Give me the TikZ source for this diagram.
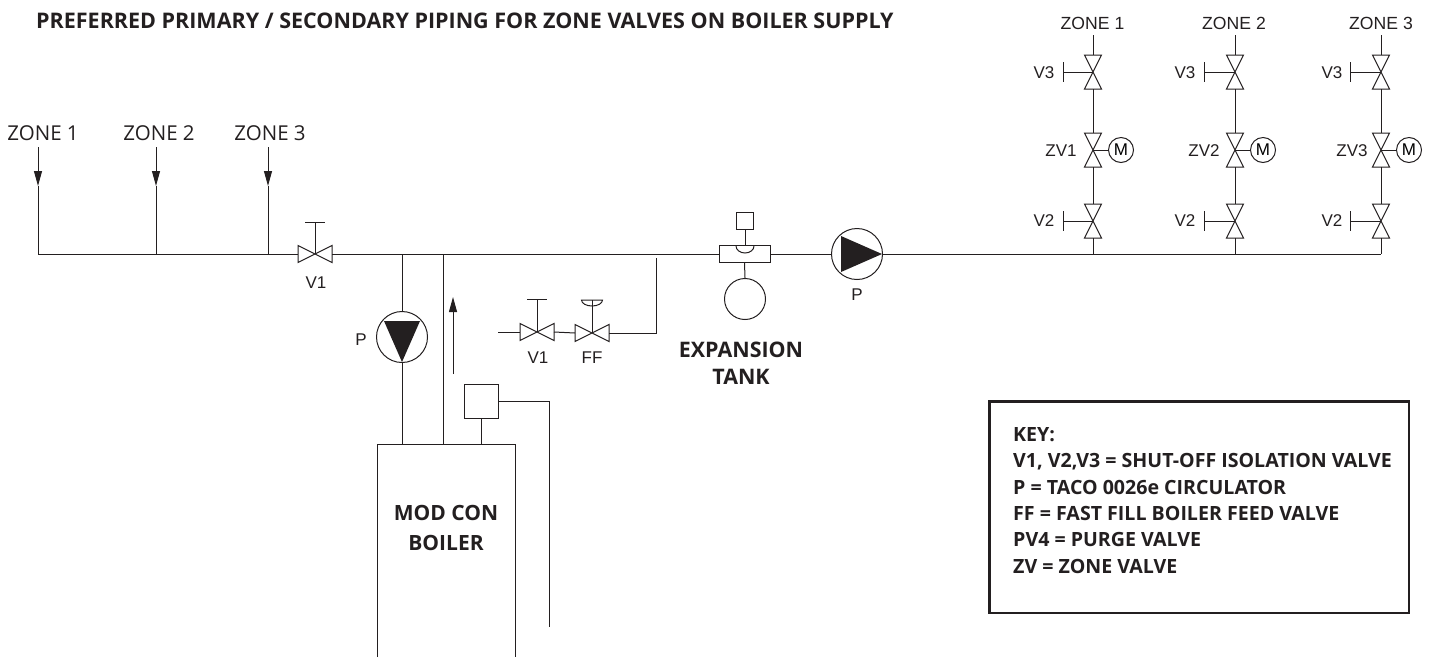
\documentclass[tikz,border=0pt]{standalone}
\usepackage{fontspec}
\setmainfont{Liberation Sans}
\newfontfamily\keyfont{Open Sans}
\usetikzlibrary{arrows.meta}
\definecolor{inkgrey}{HTML}{231F20}
\tikzstyle{every picture}+=[font=\fontsize{17}{19}\selectfont]
\tikzstyle{pipe}=[draw=inkgrey, line width=1pt]
\tikzstyle{heading}=[text=inkgrey, font=\keyfont\bfseries\fontsize{21}{27}\selectfont]
\tikzstyle{tag}=[text=inkgrey, inner sep=0pt]
\tikzstyle{round}=[circle, pipe, inner sep=0pt, fill=white]
\tikzstyle{flowhead}=[-{Triangle[length=15pt,width=8pt]}]
\tikzset{
  hvalve/.pic={
    \draw[pipe] (-17,-8.5) -- (17,8.5) -- (17,-8.5) -- (-17,8.5) -- cycle;
    \coordinate (-w) at (-17,0);
    \coordinate (-e) at (17,0);
    \coordinate (-c) at (0,0);
  },
  vvalve/.pic={
    \draw[pipe] (-8.5,-17) -- (8.5,17) -- (-8.5,17) -- (8.5,-17) -- cycle;
    \coordinate (-n) at (0,-17);
    \coordinate (-s) at (0,17);
    \coordinate (-c) at (0,0);
  },
}
\begin{document}
\begin{tikzpicture}[x=1pt,y=-1pt]
\useasboundingbox (0,0) rectangle (1434,657);

\node[heading, anchor=west, inner sep=0pt, font=\keyfont\bfseries\fontsize{21.5}{24}\selectfont] (title) at (36,21) {PREFERRED PRIMARY / SECONDARY PIPING FOR ZONE VALVES ON BOILER SUPPLY};

%% zones on the left
\foreach \nm/\x/\lx/\lbl in {a/38/43/ZONE 1, b/156/159/ZONE 2, c/268/270/ZONE 3}{
  \node[tag, font=\keyfont\fontsize{20.5}{22}\selectfont] (left\nm) at (\lx,133) {\lbl};
  \coordinate (leftmid\nm) at (\x,186);
  \coordinate (lefttop\nm) at (\x,147);
  \coordinate (leftend\nm) at (\x,254);
  \draw[pipe, flowhead] (lefttop\nm) -- (leftmid\nm);
  \draw[pipe] (leftmid\nm) -- (leftend\nm);
}
\draw[pipe] (leftenda) -- (leftendc);

%% isolation valve
\pic (vone) at (315,254) {hvalve};
\draw[pipe] (leftendc) -- (vone-w);
\coordinate (vonetop) at (315,222);
\draw[pipe] (vone-c) -- (vonetop);
\draw[pipe] (305,222) -- (325,222);
\node[tag] (vonelabel) at (316,283) {V1};

%% main line
\coordinate (tankwest) at (719,254);
\coordinate (pumpjoin) at (402,254);
\coordinate (supplyjoin) at (443,254);
\draw[pipe] (vone-e) -- (tankwest);

%% boiler
\draw[pipe] (377,657) -- (377,444) -- (515,444) -- (515,657);
\node[heading, align=center, font=\keyfont\bfseries\fontsize{21}{30}\selectfont] (boiler) at (446,528) {MOD CON\\BOILER};

%% boiler pump
\node[round, minimum size=51pt] (pumpb) at (402,337) {};
\fill[inkgrey] (384,321) -- (420,321) -- (402,362) -- cycle;
\node[tag] (pumpblabel) at (361,340) {P};
\draw[pipe] (pumpjoin) -- (pumpb.north);
\draw[pipe] (pumpb.south) -- (402,444);
\draw[pipe] (supplyjoin) -- (443,444);

%% flow arrow
\coordinate (flowstart) at (453,374);
\coordinate (flowend) at (453,297);
\draw[pipe, flowhead] (flowstart) -- (flowend);

%% control box
\node[pipe, draw, minimum size=34pt, inner sep=0pt] (ctrl) at (481,401) {};
\draw[pipe] (ctrl.south) -- (481,444);
\draw[pipe] (ctrl.east) -- (549,401) -- (549,627);

%% fill line
\coordinate (fillstart) at (498,332);
\pic (vfill) at (537,332) {hvalve};
\pic (ffill) at (592,333) {hvalve};
\draw[pipe] (fillstart) -- (vfill-w);
\draw[pipe] (vfill-e) -- (ffill-w);
\draw[pipe] (ffill-e) -- (656,333) -- (656,258);
\draw[pipe] (vfill-c) -- (537,299);
\draw[pipe] (527,299) -- (547,299);
\draw[pipe] (ffill-c) -- (592,300);
\draw[pipe] (581.5,300) arc (180:0:10.5 and 6) -- cycle;
\node[tag] (vfilllabel) at (538,358) {V1};
\node[tag] (ffilllabel) at (592,358) {FF};

%% expansion tank
\node[pipe, draw, minimum width=51pt, minimum height=17pt, inner sep=0pt] (tank) at (744.5,254) {};
\node[pipe, draw, minimum size=17pt, inner sep=0pt] (tankcap) at (745,220.5) {};
\draw[pipe] (tankcap.south) -- (745,246);
\draw[pipe] (736,246) arc (180:0:9 and 7);
\node[round, minimum size=41pt] (vessel) at (745,299) {};
\draw[pipe] (tank.south) -- (vessel.north);
\node[heading, align=center, font=\keyfont\bfseries\fontsize{21.4}{27}\selectfont] (tanklabel) at (741,363) {EXPANSION\\TANK};

%% zone pump
\node[round, minimum size=51pt] (pumpz) at (857,254) {};
\fill[inkgrey] (841,236) -- (841,272) -- (882,254) -- cycle;
\node[tag] (pumpzlabel) at (857,295) {P};
\draw[pipe] (tank.east) -- (pumpz.west);
\coordinate (headerend) at (1381,254);
\draw[pipe] (pumpz.east) -- (headerend);

%% zone branches on the right
\foreach \nm/\x/\zx/\bx/\mx/\zvx/\vx/\lbl in {
    a/1093/1092.5/1063/1121/1061/1044/1,
    b/1235/1234/1204/1263/1204/1185/2,
    c/1381/1381/1350/1409/1352/1332/3}{
  \node[tag, font=\fontsize{17.6}{19}\selectfont] (zone\nm) at (\zx,23) {ZONE \lbl};
  \coordinate (top\nm) at (\x,35);
  \coordinate (base\nm) at (\x,254);
  \pic (vthree\nm) at (\x,72) {vvalve};
  \pic (zv\nm) at (\x,150) {vvalve};
  \pic (vtwo\nm) at (\x,221) {vvalve};
  \draw[pipe] (top\nm) -- (vthree\nm-n);
  \draw[pipe] (vthree\nm-s) -- (zv\nm-n);
  \draw[pipe] (zv\nm-s) -- (vtwo\nm-n);
  \draw[pipe] (vtwo\nm-s) -- (base\nm);
  \draw[pipe] (vthree\nm-c) -- (\bx,72);
  \draw[pipe] (\bx,62) -- (\bx,82);
  \draw[pipe] (vtwo\nm-c) -- (\bx,221);
  \draw[pipe] (\bx,211) -- (\bx,231);
  \node[round, minimum size=25pt] (motor\nm) at (\mx,150) {M};
  \draw[pipe] (zv\nm-c) -- (motor\nm.west);
  \node[tag] (vthreelabel\nm) at (\vx,73) {V3};
  \node[tag] (zvlabel\nm) at (\zvx,151) {ZV\lbl};
  \node[tag] (vtwolabel\nm) at (\vx,221) {V2};
}

%% key
\draw[inkgrey, line width=2.8pt] (989.5,401.5) rectangle (1409,613);
\node[heading, anchor=north west, inner sep=0pt, align=left, font=\keyfont\bfseries\fontsize{19.6}{26.4}\selectfont] (key) at (1013,427) {KEY:\\
V1, V2,V3 = SHUT-OFF ISOLATION VALVE\\
P = TACO 0026e CIRCULATOR\\
FF = FAST FILL BOILER FEED VALVE\\
PV4 = PURGE VALVE\\
ZV = ZONE VALVE};

\end{tikzpicture}
\end{document}
